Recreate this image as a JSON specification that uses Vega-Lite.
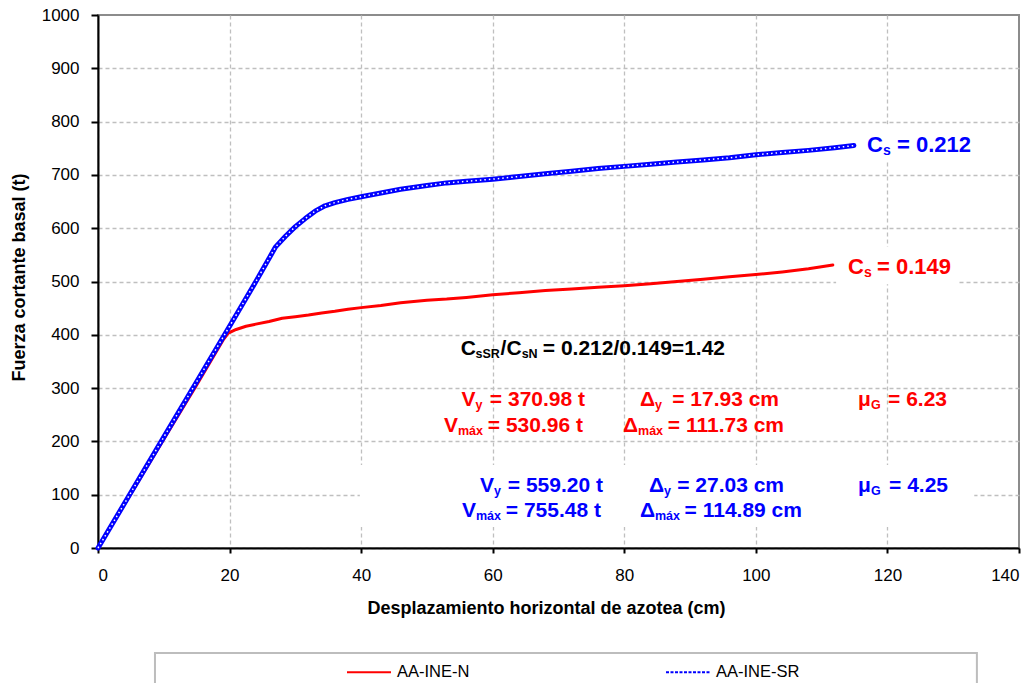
{
  "$schema": "https://vega.github.io/schema/vega-lite/v6.json",
  "width": 921,
  "height": 533,
  "autosize": {"type": "none"},
  "padding": {"left": 98, "top": 15, "right": 17, "bottom": 135},
  "background": "white",
  "config": {
    "view": {"stroke": "#8c8c8c", "strokeWidth": 2},
    "font": "Liberation Sans",
    "text": {"font": "Liberation Sans", "fontWeight": "bold", "baseline": "alphabetic"}
  },
  "datasets": {
    "curves": [
      {"s": "AA-INE-N", "x": 0, "y": 0},
      {"s": "AA-INE-N", "x": 5, "y": 102},
      {"s": "AA-INE-N", "x": 10, "y": 204},
      {"s": "AA-INE-N", "x": 15, "y": 306},
      {"s": "AA-INE-N", "x": 19, "y": 390},
      {"s": "AA-INE-N", "x": 19.8, "y": 403},
      {"s": "AA-INE-N", "x": 21, "y": 410},
      {"s": "AA-INE-N", "x": 22.5, "y": 416},
      {"s": "AA-INE-N", "x": 24, "y": 420},
      {"s": "AA-INE-N", "x": 26, "y": 425},
      {"s": "AA-INE-N", "x": 28, "y": 431},
      {"s": "AA-INE-N", "x": 30, "y": 434},
      {"s": "AA-INE-N", "x": 32, "y": 437},
      {"s": "AA-INE-N", "x": 34, "y": 441},
      {"s": "AA-INE-N", "x": 36, "y": 444},
      {"s": "AA-INE-N", "x": 38, "y": 448},
      {"s": "AA-INE-N", "x": 40, "y": 451},
      {"s": "AA-INE-N", "x": 43, "y": 455},
      {"s": "AA-INE-N", "x": 46, "y": 460},
      {"s": "AA-INE-N", "x": 50, "y": 465},
      {"s": "AA-INE-N", "x": 53, "y": 467},
      {"s": "AA-INE-N", "x": 56, "y": 470},
      {"s": "AA-INE-N", "x": 60, "y": 475},
      {"s": "AA-INE-N", "x": 64, "y": 479},
      {"s": "AA-INE-N", "x": 68, "y": 483},
      {"s": "AA-INE-N", "x": 72, "y": 486},
      {"s": "AA-INE-N", "x": 76, "y": 489},
      {"s": "AA-INE-N", "x": 80, "y": 492},
      {"s": "AA-INE-N", "x": 84, "y": 496},
      {"s": "AA-INE-N", "x": 88, "y": 500},
      {"s": "AA-INE-N", "x": 92, "y": 504},
      {"s": "AA-INE-N", "x": 96, "y": 509},
      {"s": "AA-INE-N", "x": 100, "y": 513},
      {"s": "AA-INE-N", "x": 104, "y": 518},
      {"s": "AA-INE-N", "x": 108, "y": 524},
      {"s": "AA-INE-N", "x": 111.7, "y": 531},
      {"s": "AA-INE-SR", "x": 0, "y": 0},
      {"s": "AA-INE-SR", "x": 5, "y": 104},
      {"s": "AA-INE-SR", "x": 10, "y": 208},
      {"s": "AA-INE-SR", "x": 15, "y": 312},
      {"s": "AA-INE-SR", "x": 20, "y": 416},
      {"s": "AA-INE-SR", "x": 24, "y": 500},
      {"s": "AA-INE-SR", "x": 27, "y": 565},
      {"s": "AA-INE-SR", "x": 28.5, "y": 585},
      {"s": "AA-INE-SR", "x": 30, "y": 603},
      {"s": "AA-INE-SR", "x": 31.5, "y": 618},
      {"s": "AA-INE-SR", "x": 33, "y": 632},
      {"s": "AA-INE-SR", "x": 34.5, "y": 642},
      {"s": "AA-INE-SR", "x": 36, "y": 648},
      {"s": "AA-INE-SR", "x": 38, "y": 654},
      {"s": "AA-INE-SR", "x": 40, "y": 659},
      {"s": "AA-INE-SR", "x": 43, "y": 666},
      {"s": "AA-INE-SR", "x": 46, "y": 673},
      {"s": "AA-INE-SR", "x": 50, "y": 680},
      {"s": "AA-INE-SR", "x": 53, "y": 685},
      {"s": "AA-INE-SR", "x": 56, "y": 688},
      {"s": "AA-INE-SR", "x": 60, "y": 692},
      {"s": "AA-INE-SR", "x": 64, "y": 697},
      {"s": "AA-INE-SR", "x": 68, "y": 702},
      {"s": "AA-INE-SR", "x": 72, "y": 707},
      {"s": "AA-INE-SR", "x": 76, "y": 712},
      {"s": "AA-INE-SR", "x": 80, "y": 716},
      {"s": "AA-INE-SR", "x": 84, "y": 720},
      {"s": "AA-INE-SR", "x": 88, "y": 724},
      {"s": "AA-INE-SR", "x": 92, "y": 728},
      {"s": "AA-INE-SR", "x": 96, "y": 732},
      {"s": "AA-INE-SR", "x": 100, "y": 738},
      {"s": "AA-INE-SR", "x": 104, "y": 742},
      {"s": "AA-INE-SR", "x": 108, "y": 746},
      {"s": "AA-INE-SR", "x": 112, "y": 751},
      {"s": "AA-INE-SR", "x": 114.9, "y": 755}
    ],
    "boxes": [
      {"x": 39.8, "x2": 133.2, "y": 39.4, "y2": 155.7},
      {"x": 115.8, "x2": 133.3, "y": 724, "y2": 795},
      {"x": 112.2, "x2": 130.7, "y": 495, "y2": 565}
    ],
    "legendBox": [
      {"x": 8.66, "x2": 133.6, "y": -197, "y2": -300}
    ],
    "blackL": [
      {"x": 55.13, "y": 362.1, "t": "C"},
      {"x": 61.2, "y": 362.1, "t": "/C"}
    ],
    "blackR": [
      {"x": 95.31, "y": 362.1, "t": "= 0.212/0.149=1.42"}
    ],
    "blackSub": [
      {"x": 57.38, "y": 356.5, "t": "sSR"},
      {"x": 64.4, "y": 356.5, "t": "sN"}
    ],
    "redL": [
      {"x": 55.26, "y": 266.4, "t": "V"},
      {"x": 82.39, "y": 266.4, "t": "Δ"},
      {"x": 115.53, "y": 266.4, "t": "μ"},
      {"x": 52.59, "y": 217.6, "t": "V"},
      {"x": 79.8, "y": 217.6, "t": "Δ"}
    ],
    "redR": [
      {"x": 74.03, "y": 266.4, "t": "= 370.98 t"},
      {"x": 103.52, "y": 266.4, "t": "= 17.93 cm"},
      {"x": 129.06, "y": 266.4, "t": "= 6.23"},
      {"x": 73.72, "y": 217.6, "t": "= 530.96 t"},
      {"x": 104.28, "y": 217.6, "t": "= 111.73 cm"}
    ],
    "redSub": [
      {"x": 57.38, "y": 260.8, "t": "y"},
      {"x": 84.67, "y": 260.8, "t": "y"},
      {"x": 117.51, "y": 260.8, "t": "G"},
      {"x": 54.72, "y": 212.0, "t": "máx"},
      {"x": 82.09, "y": 212.0, "t": "máx"}
    ],
    "blueL": [
      {"x": 58.07, "y": 105.1, "t": "V"},
      {"x": 83.76, "y": 105.1, "t": "Δ"},
      {"x": 115.53, "y": 105.1, "t": "μ"},
      {"x": 55.33, "y": 58.2, "t": "V"},
      {"x": 82.39, "y": 58.2, "t": "Δ"}
    ],
    "blueR": [
      {"x": 76.76, "y": 105.1, "t": "= 559.20 t"},
      {"x": 104.28, "y": 105.1, "t": "= 27.03 cm"},
      {"x": 129.21, "y": 105.1, "t": "= 4.25"},
      {"x": 76.46, "y": 58.2, "t": "= 755.48 t"},
      {"x": 107.01, "y": 58.2, "t": "= 114.89 cm"}
    ],
    "blueSub": [
      {"x": 60.19, "y": 99.4, "t": "y"},
      {"x": 86.04, "y": 99.4, "t": "y"},
      {"x": 117.51, "y": 99.4, "t": "G"},
      {"x": 57.46, "y": 52.5, "t": "máx"},
      {"x": 84.67, "y": 52.5, "t": "máx"}
    ],
    "csBlueL": [{"x": 116.89, "y": 743.0, "t": "C"}],
    "csBlueR": [{"x": 132.7, "y": 743.0, "t": "= 0.212"}],
    "csBlueSub": [{"x": 119.33, "y": 737.3, "t": "s"}],
    "csRedL": [{"x": 114.01, "y": 514.1, "t": "C"}],
    "csRedR": [{"x": 129.66, "y": 514.1, "t": "= 0.149"}],
    "csRedSub": [{"x": 116.44, "y": 508.4, "t": "s"}]
  },
  "encoding": {
    "x": {
      "field": "x",
      "type": "quantitative",
      "scale": {"domain": [0, 140], "nice": false, "zero": false},
      "axis": {
        "title": "Desplazamiento horizontal de azotea (cm)",
        "values": [0, 20, 40, 60, 80, 100, 120, 140],
        "format": "d",
        "grid": true,
        "gridDash": [4, 3],
        "gridColor": {"condition": {"test": "datum.value >= 140", "value": "transparent"}, "value": "#bfbfbf"},
        "gridWidth": 1.3,
        "domainColor": "#000000",
        "domainWidth": 2,
        "tickColor": "#000000",
        "tickWidth": 2,
        "tickSize": 5,
        "labelFont": "Liberation Sans",
        "labelFontSize": 17,
        "labelColor": "#000000",
        "labelPadding": 14,
        "titleFont": "Liberation Sans",
        "titleFontSize": 18,
        "titleFontWeight": "bold",
        "titleColor": "#000000",
        "titleX": 448,
        "titleY": 60,
        "titleAlign": "center",
        "titleBaseline": "middle"
      }
    },
    "y": {
      "field": "y",
      "type": "quantitative",
      "scale": {"domain": [0, 1000], "nice": false, "zero": false},
      "axis": {
        "title": "Fuerza cortante basal (t)",
        "values": [0, 100, 200, 300, 400, 500, 600, 700, 800, 900, 1000],
        "format": "d",
        "grid": true,
        "gridDash": [4, 3],
        "gridColor": {"condition": {"test": "datum.value >= 1000", "value": "transparent"}, "value": "#bfbfbf"},
        "gridWidth": 1.3,
        "domainColor": "#000000",
        "domainWidth": 2,
        "tickColor": "#000000",
        "tickWidth": 2,
        "tickSize": 7,
        "labelFont": "Liberation Sans",
        "labelFontSize": 17,
        "labelColor": "#000000",
        "labelPadding": 12,
        "titleFont": "Liberation Sans",
        "titleFontSize": 18,
        "titleFontWeight": "bold",
        "titleColor": "#000000",
        "titleAngle": 270,
        "titleX": -79,
        "titleY": 262,
        "titleAlign": "center",
        "titleBaseline": "middle"
      }
    }
  },
  "layer": [
    {
      "data": {"name": "legendBox"},
      "mark": {"type": "rect", "fill": "white", "stroke": "#bdbdbd", "strokeWidth": 2},
      "encoding": {"x2": {"field": "x2"}, "y2": {"field": "y2"}}
    },
    {
      "data": {"name": "boxes"},
      "mark": {"type": "rect", "fill": "white", "stroke": null},
      "encoding": {"x2": {"field": "x2"}, "y2": {"field": "y2"}}
    },
    {
      "data": {"name": "curves"},
      "transform": [{"filter": "datum.s === 'AA-INE-N'"}],
      "mark": {"type": "line", "strokeWidth": 3, "strokeCap": "round", "strokeJoin": "round"},
      "encoding": {
        "color": {
          "field": "s",
          "type": "nominal",
          "scale": {"domain": ["AA-INE-N", "AA-INE-SR"], "range": ["#ff0000", "#0000ff"]},
          "legend": {
            "orient": "none",
            "legendX": 248,
            "legendY": 634,
            "direction": "horizontal",
            "title": null,
            "symbolType": "stroke",
            "symbolSize": 1936,
            "symbolStrokeWidth": 2,
            "labelFont": "Liberation Sans",
            "labelFontSize": 16.5,
            "labelColor": "#000000",
            "labelOffset": 5,
            "columnPadding": 192,
            "padding": 0,
            "encode": {
              "symbols": {
                "update": {
                  "strokeWidth": {"value": 2},
                  "strokeDash": {"signal": "datum.value === 'AA-INE-SR' ? [3, 1.5] : [1, 0]"}
                }
              }
            }
          }
        }
      }
    },
    {
      "data": {"name": "curves"},
      "transform": [{"filter": "datum.s === 'AA-INE-SR'"}],
      "mark": {"type": "line", "strokeWidth": 5, "strokeCap": "round", "strokeJoin": "round"},
      "encoding": {
        "color": {
          "field": "s",
          "type": "nominal",
          "scale": {"domain": ["AA-INE-N", "AA-INE-SR"], "range": ["#ff0000", "#0000ff"]}
        }
      }
    },
    {
      "data": {"name": "curves"},
      "transform": [{"filter": "datum.s === 'AA-INE-SR'"}],
      "mark": {"type": "line", "color": "white", "strokeWidth": 1.5, "strokeDash": [1.5, 3]}
    },
    {"data": {"name": "blackL"}, "mark": {"type": "text", "align": "left", "fontSize": 21, "color": "#000000"}, "encoding": {"text": {"field": "t"}}},
    {"data": {"name": "blackR"}, "mark": {"type": "text", "align": "right", "fontSize": 21, "color": "#000000"}, "encoding": {"text": {"field": "t"}}},
    {"data": {"name": "blackSub"}, "mark": {"type": "text", "align": "left", "fontSize": 12.5, "color": "#000000"}, "encoding": {"text": {"field": "t"}}},
    {"data": {"name": "redL"}, "mark": {"type": "text", "align": "left", "fontSize": 21, "color": "#ff0000"}, "encoding": {"text": {"field": "t"}}},
    {"data": {"name": "redR"}, "mark": {"type": "text", "align": "right", "fontSize": 21, "color": "#ff0000"}, "encoding": {"text": {"field": "t"}}},
    {"data": {"name": "redSub"}, "mark": {"type": "text", "align": "left", "fontSize": 12.5, "color": "#ff0000"}, "encoding": {"text": {"field": "t"}}},
    {"data": {"name": "blueL"}, "mark": {"type": "text", "align": "left", "fontSize": 21, "color": "#0000ff"}, "encoding": {"text": {"field": "t"}}},
    {"data": {"name": "blueR"}, "mark": {"type": "text", "align": "right", "fontSize": 21, "color": "#0000ff"}, "encoding": {"text": {"field": "t"}}},
    {"data": {"name": "blueSub"}, "mark": {"type": "text", "align": "left", "fontSize": 12.5, "color": "#0000ff"}, "encoding": {"text": {"field": "t"}}},
    {"data": {"name": "csBlueL"}, "mark": {"type": "text", "align": "left", "fontSize": 22, "color": "#0000ff"}, "encoding": {"text": {"field": "t"}}},
    {"data": {"name": "csBlueR"}, "mark": {"type": "text", "align": "right", "fontSize": 22, "color": "#0000ff"}, "encoding": {"text": {"field": "t"}}},
    {"data": {"name": "csBlueSub"}, "mark": {"type": "text", "align": "left", "fontSize": 14, "color": "#0000ff"}, "encoding": {"text": {"field": "t"}}},
    {"data": {"name": "csRedL"}, "mark": {"type": "text", "align": "left", "fontSize": 22, "color": "#ff0000"}, "encoding": {"text": {"field": "t"}}},
    {"data": {"name": "csRedR"}, "mark": {"type": "text", "align": "right", "fontSize": 22, "color": "#ff0000"}, "encoding": {"text": {"field": "t"}}},
    {"data": {"name": "csRedSub"}, "mark": {"type": "text", "align": "left", "fontSize": 14, "color": "#ff0000"}, "encoding": {"text": {"field": "t"}}}
  ]
}
